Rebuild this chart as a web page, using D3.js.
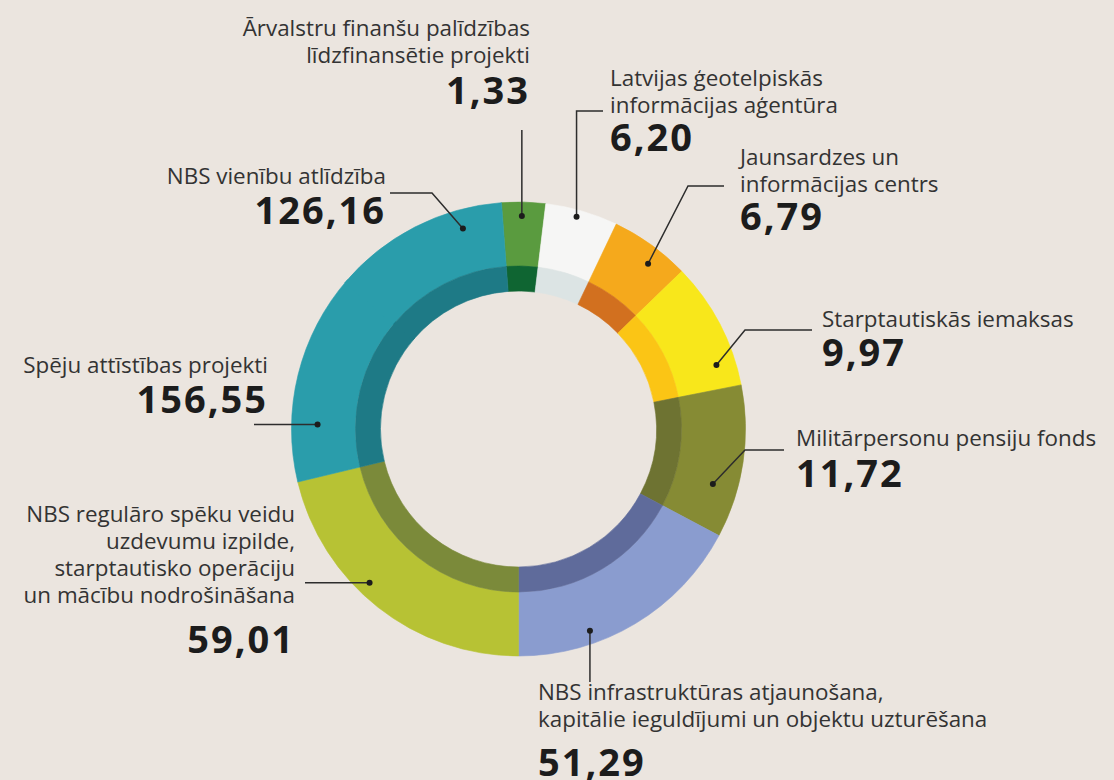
<!DOCTYPE html>
<html lang="lv">
<head>
<meta charset="UTF-8">
<title>Aizsardzības budžets</title>
<style>
  body { margin: 0; background-color: #ebe5df; }
  svg { display: block; }
  .label { font-family: "Open Sans", sans-serif; font-size: 22.4px; fill: #333; }
  .value { font-family: "Open Sans", sans-serif; font-size: 38px; font-weight: 700; fill: #1c1c1c; letter-spacing: 2px; }
  .leader { fill: none; stroke: #2d2d2d; stroke-width: 1.5; }
</style>
</head>
<body>
<script src="https://cdn.jsdelivr.net/npm/d3@7"></script>
<script>
const width = 1114, height = 780;

// categories, clockwise from the top of the ring
const categories = [
    "Ārvalstru finanšu palīdzības\nlīdzfinansētie projekti",
    "Latvijas ģeotelpiskās\ninformācijas aģentūra",
    "Jaunsardzes un\ninformācijas centrs",
    "Starptautiskās iemaksas",
    "Militārpersonu pensiju fonds",
    "NBS infrastruktūras atjaunošana,\nkapitālie ieguldījumi un objektu uzturēšana",
    "NBS regulāro spēku veidu\nuzdevumu izpilde,\nstarptautisko operāciju\nun mācību nodrošināšana",
    "Spēju attīstības projekti",
    "NBS vienību atlīdzība"
];
const values = [1.33, 6.20, 6.79, 9.97, 11.72, 51.29, 59.01, 156.55, 126.16];
// the ring is not to scale: sweep of each arc as drawn, in degrees
const arcDegrees = [11.2, 18.6, 20.5, 32.8, 39.2, 62, 76.5, 53.5, 45.7];

const outerColors = ["#5a9b3f", "#f6f6f5", "#f5a91c", "#f8e71b", "#868b34", "#8a9ccf", "#b7c234", "#2a9dab", "#2a9dab"];
const innerColors = ["#0f6532", "#dce4e4", "#d2701f", "#fbc515", "#6e7332", "#5f6b9b", "#7b8a3a", "#1e7a86", "#1e7a86"];

// label placement: text anchor, baseline of first line, value baseline,
// pointer dot (angle in degrees, radius) and leader waypoints from the text side
const labelLayout = [
    { anchor: "end",   x: 530, y: 36,  vy: 104, dot: [0.9, 213],   path: [[null, 130]] },
    { anchor: "start", x: 610, y: 86,  vy: 151, dot: [15.3, 220],  path: [[603, 111], [null, 111]] },
    { anchor: "start", x: 740, y: 165, vy: 230, dot: [38.1, 210],  path: [[724, 186], [688, 186]] },
    { anchor: "start", x: 822, y: 327, vy: 366, dot: [72.1, 208],  path: [[812, 330], [745, 330]] },
    { anchor: "start", x: 796, y: 446, vy: 487, dot: [105.8, 202], path: [[784, 450], [745, 450]] },
    { anchor: "start", x: 538, y: 700, vy: 776, dot: [160.5, 214], path: [[null, 682]] },
    { anchor: "end",   x: 295, y: 522, vy: 653, dot: [224.1, 214], path: [[305, null]] },
    { anchor: "end",   x: 268, y: 373, vy: 413, dot: [271.3, 201], path: [[254, null]] },
    { anchor: "end",   x: 386, y: 184, vy: 224, dot: [344.5, 208], path: [[390, 193], [432, 193]] }
];

const cx = 518.5, cy = 429;
const rOuter = 227, rBand = 163, rInner = 138;
const lineHeight = 27;

const data = categories.map((c, i) => ({ name: c, value: values[i], sweep: arcDegrees[i], i: i }));

const svg = d3.select("body").append("svg")
    .attr("width", width)
    .attr("height", height);

const startAngle = -4.3 * Math.PI / 180;
const pie = d3.pie()
    .sort(null)
    .value(d => d.sweep)
    .startAngle(startAngle)
    .endAngle(startAngle + 2 * Math.PI);
const arcs = pie(data);

// let an arc run a little under the next one when both share a colour, so no seam shows
const overlap = (d, colors) => {
    const next = (d.data.i + 1) % colors.length;
    const ext = colors[next] === colors[d.data.i] ? 0.02 : 0;
    return Object.assign({}, d, { endAngle: d.endAngle + ext });
};

const outerArc = d3.arc().innerRadius(rBand).outerRadius(rOuter);
const innerArc = d3.arc().innerRadius(rInner).outerRadius(rBand);

const ring = svg.append("g").attr("transform", `translate(${cx},${cy})`);

ring.selectAll("path.outer")
    .data(arcs)
    .join("path")
    .attr("class", "outer")
    .attr("d", d => outerArc(overlap(d, outerColors)))
    .attr("fill", d => outerColors[d.data.i])
    .attr("stroke", d => outerColors[d.data.i])
    .attr("stroke-width", 0.6);

ring.selectAll("path.inner")
    .data(arcs)
    .join("path")
    .attr("class", "inner")
    .attr("d", d => innerArc(overlap(d, innerColors)))
    .attr("fill", d => innerColors[d.data.i])
    .attr("stroke", d => innerColors[d.data.i])
    .attr("stroke-width", 0.6);

const fmt = v => d3.format(".2f")(v).replace(".", ",");

const dotPos = l => {
    const a = l.dot[0] * Math.PI / 180;
    return [cx + l.dot[1] * Math.sin(a), cy - l.dot[1] * Math.cos(a)];
};

// leader lines and dots
labelLayout.forEach((l, i) => {
    const d = dotPos(l);
    const pts = l.path.map(p => [p[0] == null ? d[0] : p[0], p[1] == null ? d[1] : p[1]]);
    pts.push(d);
    svg.append("path")
        .attr("class", "leader")
        .attr("d", d3.line()(pts));
    svg.append("circle")
        .attr("cx", d[0])
        .attr("cy", d[1])
        .attr("r", 3)
        .attr("fill", "#1c1c1c");
});

// texts
const labels = svg.selectAll("g.lbl")
    .data(data)
    .join("g")
    .attr("class", "lbl");

labels.append("text")
    .attr("class", "label")
    .attr("text-anchor", d => labelLayout[d.i].anchor)
    .selectAll("tspan")
    .data(d => d.name.split("\n").map(t => ({ t: t, l: labelLayout[d.i] })))
    .join("tspan")
    .attr("x", d => d.l.x)
    .attr("y", (d, k) => d.l.y + k * lineHeight)
    .text(d => d.t);

labels.append("text")
    .attr("class", "value")
    .attr("text-anchor", d => labelLayout[d.i].anchor)
    .attr("x", d => labelLayout[d.i].x)
    .attr("y", d => labelLayout[d.i].vy)
    .text(d => fmt(d.value));
</script>
</body>
</html>
